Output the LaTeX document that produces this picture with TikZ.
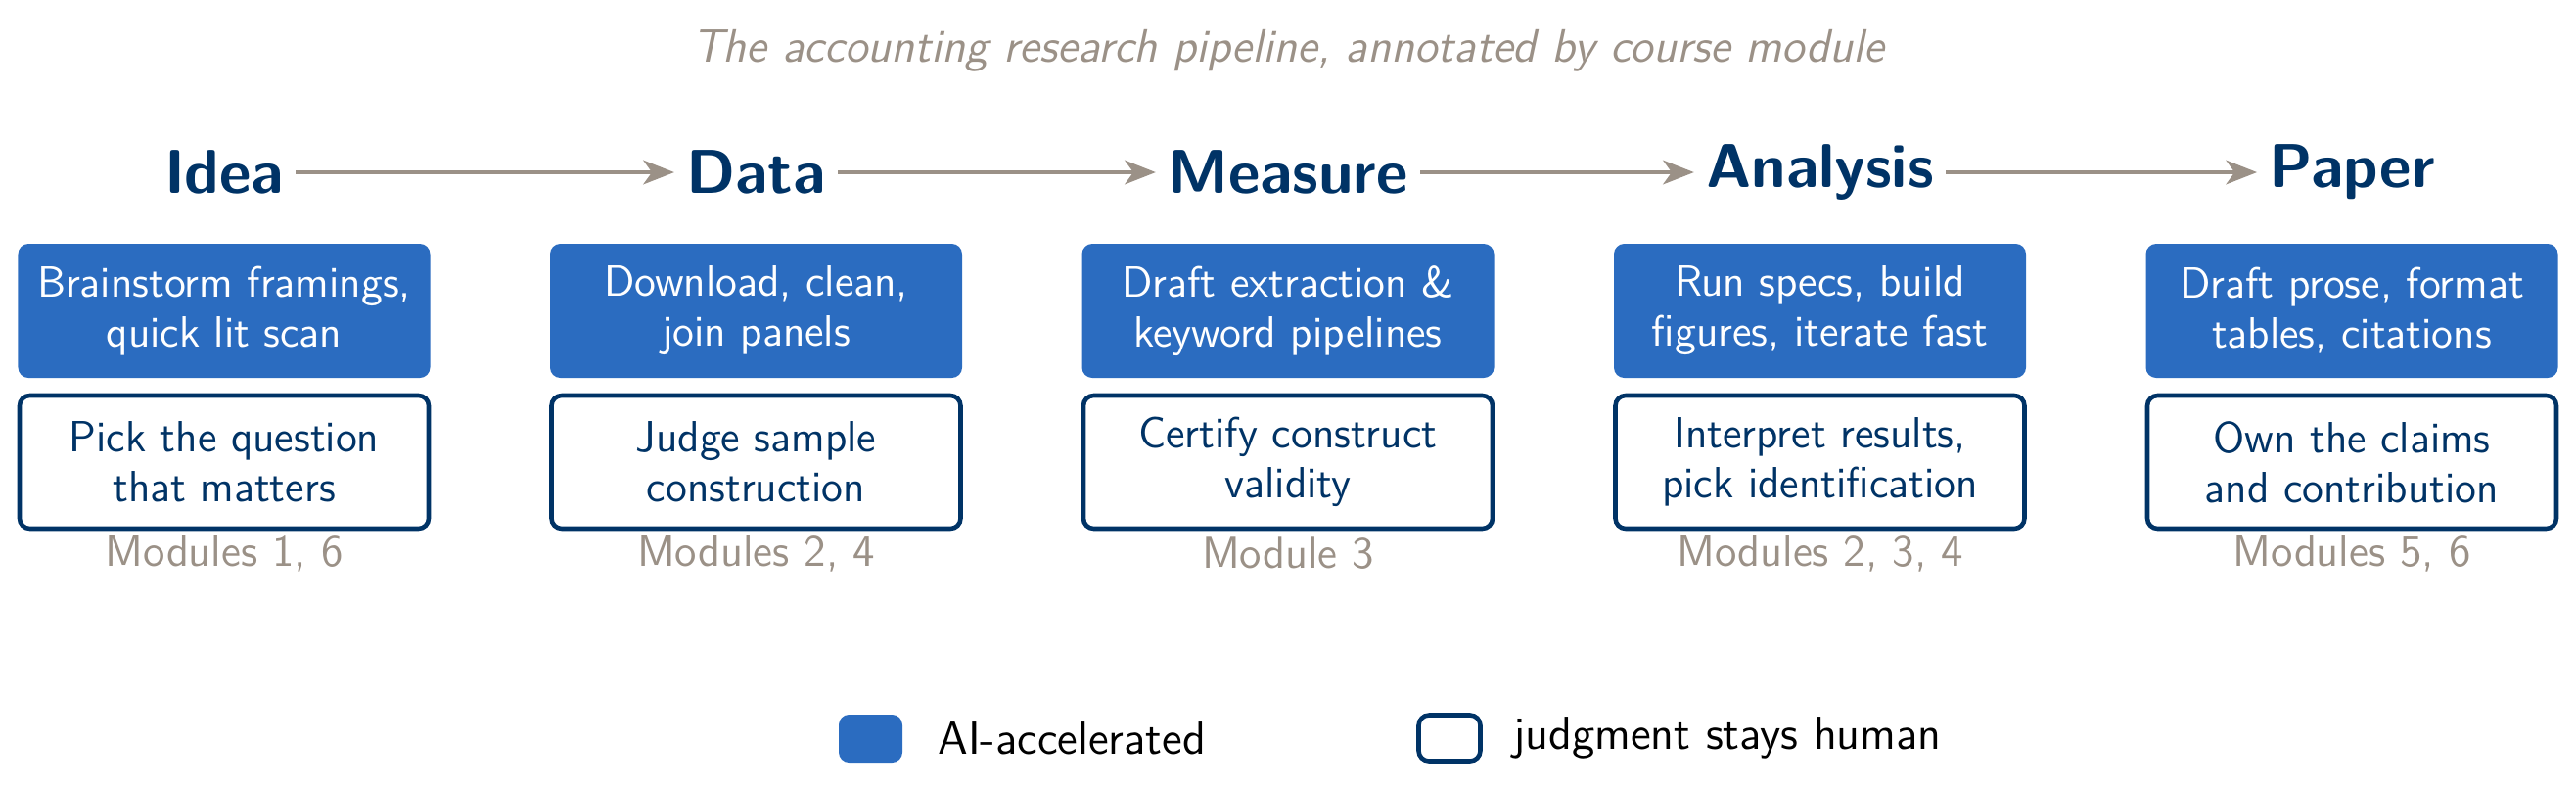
\documentclass[tikz,border=0pt]{standalone}
\usepackage{fontspec}
\usepackage{tikz}
\usetikzlibrary{positioning,arrows.meta}

\definecolor{aiblue}{RGB}{43,108,192}
\definecolor{navy}{RGB}{0,51,102}
\definecolor{taupe}{RGB}{155,145,135}

\begin{document}
\begin{tikzpicture}[
      txt/.style={font=\sffamily\fontsize{12.7}{14.5}\selectfont},
      stage/.style={font=\sffamily\bfseries\fontsize{18}{20}\selectfont,text=navy},
      aibox/.style={txt,rectangle,rounded corners=3pt,fill=aiblue,text=white,align=center,
        minimum width=4.21cm,minimum height=1.37cm,inner sep=0pt},
      humbox/.style={txt,rectangle,rounded corners=3pt,draw=navy,line width=1.3pt,fill=white,
        text=navy,align=center,minimum width=4.18cm,minimum height=1.36cm,inner sep=0pt},
      modtag/.style={font=\sffamily\fontsize{13}{15}\selectfont,text=taupe,inner sep=0pt},
      keytxt/.style={font=\sffamily\fontsize{13.5}{15}\selectfont,inner sep=0pt},
      flow/.style={draw=taupe,line width=1.2pt,-{Stealth[length=9pt,width=7pt,inset=2.5pt]}}]
    \useasboundingbox (0,0) rectangle (26.32,-8.07);
    \node[font=\sffamily\itshape\fontsize{13.6}{16}\selectfont,text=taupe,anchor=base,inner sep=0pt]
      (title) at (13.16,-0.63) {The accounting research pipeline, annotated by course module};
    % one column per stage
    \foreach \i/\x/\stg/\ai/\hum/\mods in {
        1/2.29/Idea/{Brainstorm framings,\\quick lit scan}/{Pick the question\\that matters}/{Modules 1, 6},
        2/7.725/Data/{Download, clean,\\join panels}/{Judge sample\\construction}/{Modules 2, 4},
        3/13.16/Measure/{Draft extraction \&\\keyword pipelines}/{Certify construct\\validity}/{Module 3},
        4/18.595/Analysis/{Run specs, build\\figures, iterate fast}/{Interpret results,\\pick identification}/{Modules 2, 3, 4},
        5/24.03/Paper/{Draft prose, format\\tables, citations}/{Own the claims\\and contribution}/{Modules 5, 6}} {
      \node[stage] (s\i) at (\x,-1.76) {\stg};
      \node[aibox] (a\i) at (\x,-3.175) {\ai};
      \node[humbox,below=0.15cm of a\i] (h\i) {\hum};
      \node[modtag] (m\i) at (\x,-5.65) {\mods};
    }
    \foreach \i/\j in {1/2,2/3,3/4,4/5}
      \draw[flow] (s\i) -- (s\j);
    % legend
    \node[rectangle,rounded corners=3pt,fill=aiblue,minimum width=0.65cm,minimum height=0.49cm,inner sep=0pt]
      (kai) at (8.895,-7.545) {};
    \node[keytxt,right=0.35cm of kai] (kail) {AI-accelerated};
    \node[rectangle,rounded corners=3pt,draw=navy,line width=1.3pt,minimum width=0.63cm,minimum height=0.47cm,inner sep=0pt]
      (khum) at (14.81,-7.54) {};
    \node[keytxt,right=0.31cm of khum] (khuml) {judgment stays human};
  \end{tikzpicture}
\end{document}
